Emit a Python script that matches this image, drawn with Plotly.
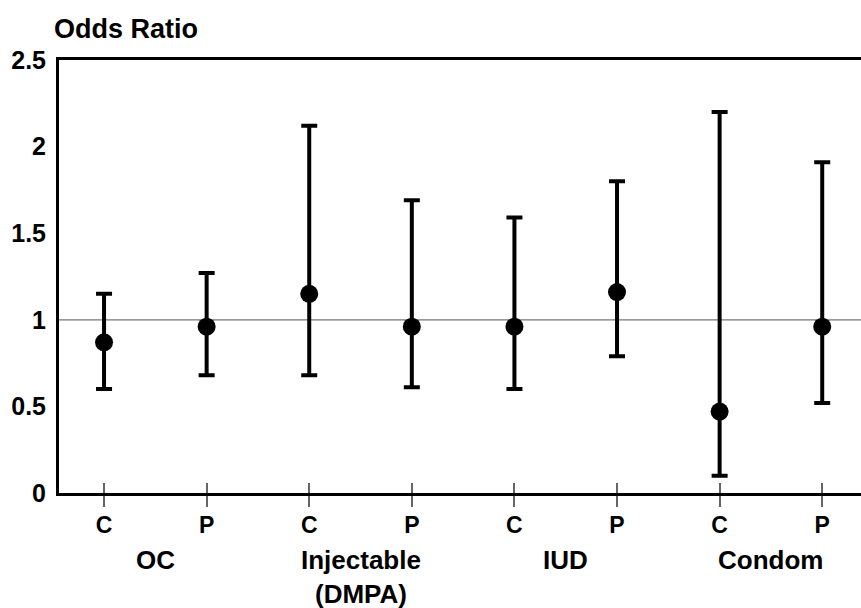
import plotly.graph_objects as go

# ---- data ----
categories = ["OC-C", "OC-P", "Inj-C", "Inj-P", "IUD-C", "IUD-P", "Con-C", "Con-P"]
tick_text = ["C", "P", "C", "P", "C", "P", "C", "P"]
odds_ratio = [0.87, 0.96, 1.15, 0.96, 0.96, 1.16, 0.47, 0.96]
ci_lower = [0.60, 0.68, 0.68, 0.61, 0.60, 0.79, 0.10, 0.52]
ci_upper = [1.15, 1.27, 2.12, 1.69, 1.59, 1.80, 2.20, 1.91]
groups = ["OC", "Injectable<br>(DMPA)", "IUD", "Condom"]
y_ticks = [0, 0.5, 1, 1.5, 2, 2.5]
y_tick_text = ["0", "0.5", "1", "1.5", "2", "2.5"]
reference_value = 1

FONT = "Liberation Sans, Arial, Helvetica, sans-serif"

idx = list(range(len(categories)))
err_plus = [u - v for u, v in zip(ci_upper, odds_ratio)]
err_minus = [v - l for v, l in zip(odds_ratio, ci_lower)]

fig = go.Figure()
fig.add_trace(go.Scatter(
    x=idx, y=odds_ratio, mode="markers",
    marker=dict(color="black", size=18),
    error_y=dict(type="data", array=err_plus, arrayminus=err_minus,
                 color="black", thickness=4, width=8),
    showlegend=False, hoverinfo="skip",
))
# invisible trace on overlay axis (for inside tick marks)
fig.add_trace(go.Scatter(x=idx, y=odds_ratio, xaxis="x2", mode="markers",
                         marker=dict(opacity=0), showlegend=False, hoverinfo="skip"))

xr = [-0.439, 7.378]
fig.update_layout(
    width=861, height=608,
    margin=dict(l=59, r=0, t=60, b=114.5),
    plot_bgcolor="white", paper_bgcolor="white",
    font=dict(family=FONT, color="black"),
    title=dict(text="Odds Ratio", x=54 / 861, xref="container", xanchor="left",
               y=1 - 29 / 608, yref="container", yanchor="middle",
               font=dict(family=FONT, size=27, weight="bold", color="black")),
    xaxis=dict(range=xr, tickmode="array", tickvals=idx, ticktext=tick_text,
               showline=True, linecolor="black", linewidth=3, mirror=True,
               ticks="outside", ticklen=11, tickwidth=1.5, tickcolor="#666",
               showgrid=False, zeroline=False, ticklabelstandoff=-2,
               tickfont=dict(family=FONT, size=23, weight="bold", color="black")),
    xaxis2=dict(range=xr, overlaying="x", anchor="y", side="bottom",
                tickmode="array", tickvals=idx, showticklabels=False,
                ticks="inside", ticklen=10, tickwidth=1.5, tickcolor="#666",
                showline=False, showgrid=False, zeroline=False),
    yaxis=dict(range=[0, 2.5], tickmode="array", tickvals=y_ticks, ticktext=y_tick_text,
               showline=True, linecolor="black", linewidth=3,
               ticks="", showgrid=False, zeroline=False, ticklabelstandoff=5,
               tickfont=dict(family=FONT, size=25, weight="bold", color="black")),
)

fig.add_shape(type="line", xref="paper", x0=0, x1=1, yref="y",
              y0=reference_value, y1=reference_value,
              line=dict(color="#777", width=1.2), layer="below")

for g, name in enumerate(groups):
    fig.add_annotation(x=(idx[2 * g] + idx[2 * g + 1]) / 2, xref="x",
                       y=-0.115, yref="paper", yanchor="top",
                       text=name, showarrow=False,
                       font=dict(family=FONT, size=26, weight="bold", color="black"))

fig.write_html("out.html", config={"displayModeBar": False},
               post_script="document.body.style.margin='0';document.body.style.overflow='hidden';")
